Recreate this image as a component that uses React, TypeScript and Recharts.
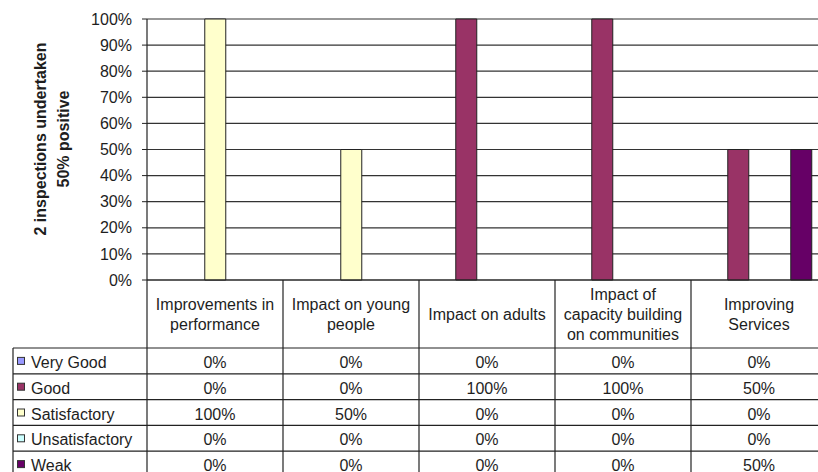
import React from 'react'
import { BarChart, Bar, XAxis, YAxis, CartesianGrid } from 'recharts'

const categories = [
  'Improvements in\nperformance',
  'Impact on young\npeople',
  'Impact on adults',
  'Impact of\ncapacity building\non communities',
  'Improving\nServices',
]
const veryGood = [0, 0, 0, 0, 0]
const good = [0, 0, 100, 100, 50]
const satisfactory = [100, 50, 0, 0, 0]
const unsatisfactory = [0, 0, 0, 0, 0]
const weak = [0, 0, 0, 0, 50]
const yTicks = [0, 10, 20, 30, 40, 50, 60, 70, 80, 90, 100]

const series = [
  { key: 'veryGood', name: 'Very Good', values: veryGood, color: '#9999ff' },
  { key: 'good', name: 'Good', values: good, color: '#993366' },
  { key: 'satisfactory', name: 'Satisfactory', values: satisfactory, color: '#ffffcc' },
  { key: 'unsatisfactory', name: 'Unsatisfactory', values: unsatisfactory, color: '#ccffff' },
  { key: 'weak', name: 'Weak', values: weak, color: '#660066' },
]

const data = categories.map((c, i) => {
  const row: Record<string, string | number> = { name: c }
  series.forEach(s => { row[s.key] = s.values[i] })
  return row
})

const FONT = '"Liberation Sans", Arial, sans-serif'
const W = 840
const H = 472
const PLOT_LEFT = 147
const PLOT_TOP = 19
const PLOT_BOTTOM = 280
const CAT_W = 136
const PLOT_RIGHT = PLOT_LEFT + CAT_W * categories.length
const HEADER_H = 68
const ROW_H = 25.8
const LEGEND_LEFT = 13
const INK = '#1e1e1e'

const AxisTitle = () => (
  <g fontFamily={FONT} fontSize={16} fontWeight="bold" fill={INK}>
    <text transform="translate(46,139) rotate(-90)" textAnchor="middle">2 inspections undertaken</text>
    <text transform="translate(69,139) rotate(-90)" textAnchor="middle">50% positive</text>
  </g>
)

const DataTable = () => {
  const rowsTop = PLOT_BOTTOM + HEADER_H
  const bottom = rowsTop + ROW_H * series.length
  return (
    <svg width={W} height={H} style={{ position: 'absolute', left: 0, top: 0, pointerEvents: 'none' }}>
      <g stroke="#222" strokeWidth={1.2} fill="none">
        <line x1={PLOT_LEFT} y1={PLOT_BOTTOM} x2={PLOT_RIGHT} y2={PLOT_BOTTOM} />
        {categories.map((_, i) => (
          <line key={i} x1={PLOT_LEFT + CAT_W * i} y1={PLOT_BOTTOM} x2={PLOT_LEFT + CAT_W * i} y2={bottom} />
        ))}
        <line x1={LEGEND_LEFT} y1={rowsTop} x2={LEGEND_LEFT} y2={bottom} />
        {series.map((_, i) => (
          <line key={i} x1={LEGEND_LEFT} y1={rowsTop + ROW_H * i} x2={PLOT_RIGHT} y2={rowsTop + ROW_H * i} />
        ))}
      </g>
      <g fontFamily={FONT} fontSize={16} fill={INK} textAnchor="middle">
        {categories.map((c, i) => {
          const lines = c.split('\n')
          const cx = PLOT_LEFT + CAT_W * (i + 0.5)
          return lines.map((ln, j) => (
            <text key={`${i}-${j}`} x={cx} y={314 + (j - (lines.length - 1) / 2) * 20} dominantBaseline="central">
              {ln}
            </text>
          ))
        })}
        {series.map((s, r) =>
          s.values.map((v, i) => (
            <text
              key={`${r}-${i}`}
              x={PLOT_LEFT + CAT_W * (i + 0.5)}
              y={rowsTop + ROW_H * (r + 0.5) + 1.5}
              dominantBaseline="central"
            >
              {`${v}%`}
            </text>
          ))
        )}
      </g>
      {series.map((s, r) => {
        const cy = rowsTop + ROW_H * (r + 0.5)
        return (
          <g key={s.key}>
            <rect x={17.5} y={cy - 3.5} width={7} height={7} fill={s.color} stroke="#333" strokeWidth={1} />
            <text x={31} y={cy + 1.5} dominantBaseline="central" fontFamily={FONT} fontSize={16} fill={INK}>
              {s.name}
            </text>
          </g>
        )
      })}
    </svg>
  )
}

export default function App() {
  return (
    <div style={{ position: 'fixed', left: 0, top: 0, width: 818, height: 472, overflow: 'hidden', background: '#fff' }}>
      <BarChart
        width={W}
        height={H}
        data={data}
        margin={{ top: PLOT_TOP, right: W - PLOT_RIGHT, bottom: H - PLOT_BOTTOM, left: 0 }}
        barCategoryGap="11.6%"
        barGap={0}
      >
        <CartesianGrid horizontal vertical={false} stroke="#333" strokeWidth={1.2} />
        <XAxis dataKey="name" hide />
        <YAxis
          width={PLOT_LEFT}
          domain={[0, 100]}
          ticks={yTicks}
          interval={0}
          tickFormatter={(v: number) => `${v}%`}
          tick={{ fontSize: 16, fill: INK, fontFamily: FONT }}
          tickSize={5}
          tickMargin={10}
          tickLine={{ stroke: '#222' }}
          axisLine={{ stroke: '#222', strokeWidth: 1.2 }}
          label={<AxisTitle />}
        />
        {series.map(s => (
          <Bar
            key={s.key}
            dataKey={s.key}
            name={s.name}
            fill={s.color}
            stroke="#222"
            strokeWidth={1}
            isAnimationActive={false}
          />
        ))}
      </BarChart>
      <DataTable />
    </div>
  )
}
